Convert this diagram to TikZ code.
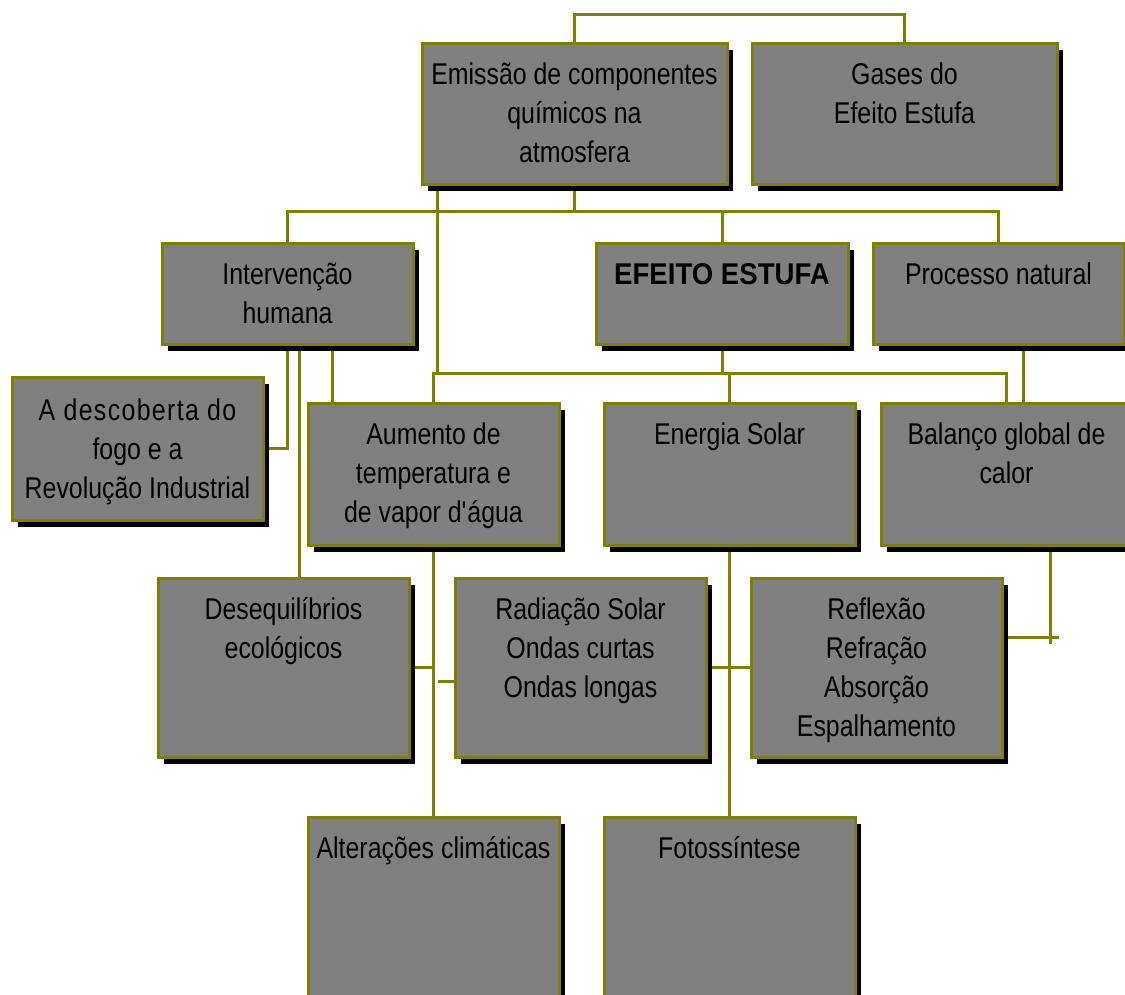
\documentclass[tikz,border=0pt]{standalone}
\usepackage{fontspec}
\setmainfont[FakeStretch=0.83, BoldFeatures={FakeStretch=0.92}]{Liberation Sans}
\usetikzlibrary{shadows,backgrounds}
\definecolor{lineol}{RGB}{128,128,0}
\definecolor{boxgray}{RGB}{128,128,128}
\newcommand\mystrut{\rule{0pt}{30pt}}
\begin{document}
\begin{tikzpicture}[x=1pt,y=-1pt,
  box/.style={draw=lineol, fill=boxgray, line width=3pt, rectangle, inner sep=0pt,
    minimum width=#1, general shadow={fill=black, shadow xshift=6pt, shadow yshift=-7pt}},
  box/.default=251pt,
  txt/.style={anchor=north, inner sep=0pt, align=center, text=black,
    font=\fontsize{30}{39}\selectfont, yshift=-13pt},
  conn/.style={draw=lineol, line width=3pt}]
\useasboundingbox (0,0) rectangle (1125,994);

% boxes
\node[box=305pt, minimum height=141pt] (emis) at (574.5,113.5) {};
\node[box=305pt, minimum height=141pt] (gases) at (904.5,113.5) {};
\node[box, minimum height=101pt] (interv) at (287.5,293.5) {};
\node[box=252pt, minimum height=101pt] (efeito) at (722,293.5) {};
\node[box, minimum height=101pt] (proc) at (998.5,293.5) {};
\node[box, minimum height=143pt] (desc) at (137.5,448.5) {};
\node[box, minimum height=142pt] (aum) at (433.5,474) {};
\node[box, minimum height=142pt] (ener) at (729.5,474) {};
\node[box, minimum height=142pt] (bal) at (1006.5,474) {};
\node[box, minimum height=179pt] (deseq) at (283.5,667.5) {};
\node[box, minimum height=179pt] (rad) at (580.5,667.5) {};
\node[box, minimum height=179pt] (refl) at (876.5,667.5) {};
\node[box, minimum height=200pt] (alt) at (433.5,917) {};
\node[box, minimum height=200pt] (foto) at (729.5,917) {};

% texts
\node[txt] (t-emis) at (emis.north) {\mystrut Emissão de componentes\\químicos na\\atmosfera};
\node[txt] (t-gases) at (gases.north) {\mystrut Gases do\\Efeito Estufa};
\node[txt] (t-interv) at (interv.north) {\mystrut Intervenção\\humana};
\node[txt] (t-efeito) at (efeito.north) {\mystrut\bfseries EFEITO ESTUFA};
\node[txt] (t-proc) at (proc.north) {\mystrut Processo natural};
\node[txt, yshift=-2pt] (t-desc) at (desc.north) {\mystrut{\addfontfeature{LetterSpace=4.5}A descoberta do}\\fogo e a\\Revolução Industrial};
\node[txt] (t-aum) at (aum.north) {\mystrut Aumento de\\temperatura e\\de vapor d\textquotesingle água};
\node[txt] (t-ener) at (ener.north) {\mystrut Energia Solar};
\node[txt] (t-bal) at (bal.north) {\mystrut Balanço global de\\calor};
\node[txt] (t-deseq) at (deseq.north) {\mystrut Desequilíbrios\\ecológicos};
\node[txt] (t-rad) at (rad.north) {\mystrut Radiação Solar\\Ondas curtas\\Ondas longas};
\node[txt] (t-refl) at (refl.north) {\mystrut Reflexão\\Refração\\Absorção\\Espalhamento};
\node[txt] (t-alt) at (alt.north) {\mystrut Alterações climáticas};
\node[txt] (t-foto) at (foto.north) {\mystrut Fotossíntese};

% connectors
\begin{scope}[on background layer]
\draw[conn] (emis.north) -- ++(0,-27) -| (gases.north);
\draw[conn] (interv.north) -- ++(0,-30) coordinate (h1) -| (proc.north);
\draw[conn] (emis.south) -- (emis.south |- h1);
\draw[conn] (efeito.north) -- (efeito.north |- h1);
\draw[conn] (aum.north) -- ++(0,-28) coordinate (h2) -| (bal.north);
\draw[conn] ([xshift=4pt]h2 |- emis.south) -- ([xshift=4pt]h2);
\draw[conn] (efeito.south) -- (efeito.south |- h2);
\draw[conn] (ener.north) -- (ener.north |- h2);
\draw[conn] ([xshift=24.5pt]proc.south) -- ([xshift=24.5pt]proc.south |- bal.north);
\draw[conn] (interv.south) |- (desc.east);
\draw[conn] ([xshift=11.5pt]interv.south) -- ([xshift=11.5pt]interv.south |- deseq.north);
\draw[conn] ([xshift=44.5pt]interv.south) -- ([xshift=44.5pt]interv.south |- aum.north);
\draw[conn] (aum.south) -- (alt.north);
\draw[conn] (deseq.east) -- (deseq.east -| aum.south);
\draw[conn] ([yshift=-13.5pt]rad.west) -- ([yshift=-13.5pt,xshift=4pt]rad.west -| aum.south);
\draw[conn] (ener.south) -- (foto.north);
\draw[conn] (rad.east) -- (refl.west);
\draw[conn] ([xshift=43.5pt]bal.south) -- ++(0,97);
\draw[conn] ([yshift=30pt]refl.east) -- ++(55,0);
\end{scope}
\end{tikzpicture}
\end{document}
